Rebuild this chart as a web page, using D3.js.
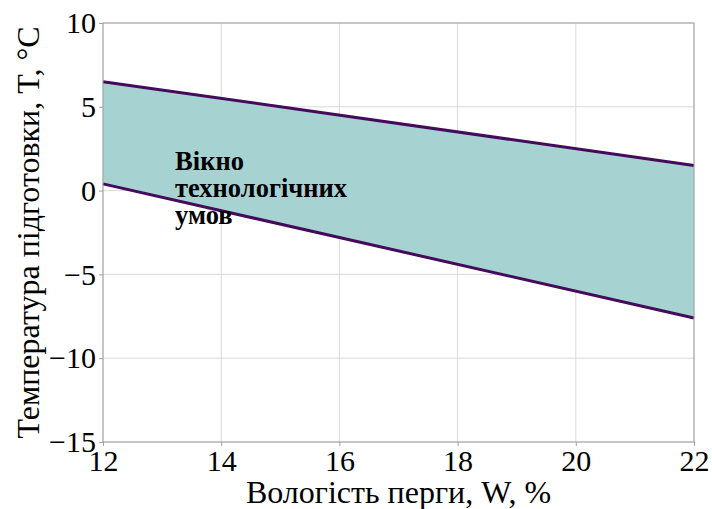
<!DOCTYPE html>
<html>
<head>
<meta charset="utf-8">
<script src="https://cdn.jsdelivr.net/npm/d3@7"></script>
<style>
  body { margin: 0; background: #fff; }
  svg text { font-family: "Liberation Serif", "Times New Roman", serif; }
</style>
</head>
<body>
<svg width="712" height="509"></svg>
<script>
// Data
const moisture = [12, 22];
const upperTemp = [6.5, 1.5];
const lowerTemp = [0.4, -7.6];
const xTicks = [12, 14, 16, 18, 20, 22];
const yTicks = [-15, -10, -5, 0, 5, 10];
const noteLines = ["Вікно", "технологічних", "умов"];

const width = 712;
const height = 509;
const margin = { top: 23, right: 18, bottom: 67, left: 103 };
const serif = "'Liberation Serif', 'Times New Roman', serif";

const svg = d3.select("svg");

const xScale = d3.scaleLinear()
    .domain([12, 22])
    .range([margin.left, width - margin.right]);

const yScale = d3.scaleLinear()
    .domain([-15, 10])
    .range([height - margin.bottom, margin.top]);

// Grid lines
svg.append("g")
    .selectAll("line")
    .data(xTicks)
    .enter()
    .append("line")
    .attr("x1", d => xScale(d))
    .attr("x2", d => xScale(d))
    .attr("y1", yScale(-15))
    .attr("y2", yScale(10))
    .attr("stroke", "#d9d9d9")
    .attr("stroke-width", 1);

svg.append("g")
    .selectAll("line")
    .data(yTicks)
    .enter()
    .append("line")
    .attr("x1", xScale(12))
    .attr("x2", xScale(22))
    .attr("y1", d => yScale(d))
    .attr("y2", d => yScale(d))
    .attr("stroke", "#d9d9d9")
    .attr("stroke-width", 1);

// Band between the lines
const rows = moisture.map((m, i) => ({ x: m, lo: lowerTemp[i], hi: upperTemp[i] }));

svg.append("path")
    .datum(rows)
    .attr("fill", "#a6d2d2")
    .attr("d", d3.area()
        .x(d => xScale(d.x))
        .y0(d => yScale(d.lo))
        .y1(d => yScale(d.hi)));

// Boundary lines
[upperTemp, lowerTemp].forEach(series => {
    svg.append("path")
        .datum(moisture.map((m, i) => [m, series[i]]))
        .attr("fill", "none")
        .attr("stroke", "#440a5c")
        .attr("stroke-width", 3)
        .attr("d", d3.line()
            .x(d => xScale(d[0]))
            .y(d => yScale(d[1])));
});

// Frame
svg.append("rect")
    .attr("x", xScale(12))
    .attr("y", yScale(10))
    .attr("width", xScale(22) - xScale(12))
    .attr("height", yScale(-15) - yScale(10))
    .attr("fill", "none")
    .attr("stroke", "#a0a0a0")
    .attr("stroke-width", 1);

// Axes
const xAxis = svg.append("g")
    .attr("transform", `translate(0, ${yScale(-15)})`)
    .call(d3.axisBottom(xScale).tickValues(xTicks).tickSize(4).tickPadding(3));

const yAxis = svg.append("g")
    .attr("transform", `translate(${xScale(12)}, 0)`)
    .call(d3.axisLeft(yScale).tickValues(yTicks).tickSize(4).tickPadding(3));

[xAxis, yAxis].forEach(g => {
    g.attr("font-family", serif).attr("font-size", 30);
    g.select(".domain").remove();
    g.selectAll(".tick line").attr("stroke", "#a0a0a0");
    g.selectAll("text")
        .attr("fill", "#000")
        .style("font-family", serif)
        .style("font-size", "30px");
});
xAxis.selectAll("text").attr("dy", "0.74em");

// Axis labels
svg.append("text")
    .attr("x", (xScale(12) + xScale(22)) / 2)
    .attr("y", 503)
    .attr("text-anchor", "middle")
    .attr("font-family", serif)
    .attr("font-size", 32)
    .text("Вологість перги, W, %");

svg.append("text")
    .attr("x", -(yScale(10) + yScale(-15)) / 2)
    .attr("y", 39)
    .attr("transform", "rotate(-90)")
    .attr("text-anchor", "middle")
    .attr("font-family", serif)
    .attr("font-size", 32)
    .text("Температура підготовки, T, °C");

// Annotation
const note = svg.append("text")
    .attr("x", xScale(13.22))
    .attr("y", 170)
    .attr("font-family", serif)
    .attr("font-size", 26.5)
    .attr("font-weight", "bold");

noteLines.forEach((t, i) => {
    note.append("tspan")
        .attr("x", xScale(13.22))
        .attr("dy", i === 0 ? 0 : 27)
        .text(t);
});
</script>
</body>
</html>
